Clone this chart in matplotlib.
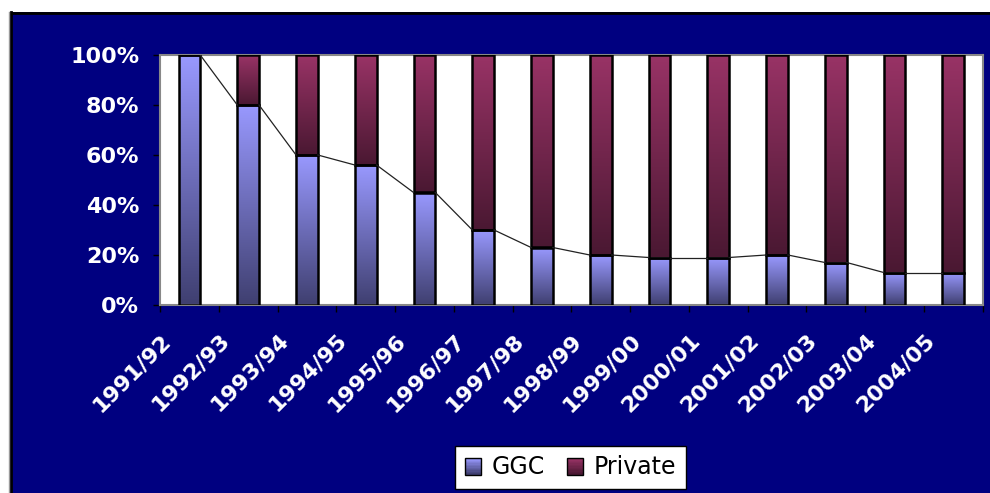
import numpy as np
import matplotlib.pyplot as plt
import matplotlib.transforms as mtransforms
from matplotlib.colors import LinearSegmentedColormap, to_rgb
from matplotlib.patches import Rectangle, Patch
from matplotlib.legend_handler import HandlerBase
from matplotlib.lines import Line2D

# dane
years = ['1991/92', '1992/93', '1993/94', '1994/95', '1995/96', '1996/97', '1997/98',
         '1998/99', '1999/00', '2000/01', '2001/02', '2002/03', '2003/04', '2004/05']
ggc = [100, 80, 60, 56, 45, 30, 23, 20, 19, 19, 20, 17, 13, 13]
private = [100 - v for v in ggc]

navy = '#000080'
ggc_top, ggc_bot = '#9999FF', '#3F3F70'
prv_top, prv_bot = '#993366', '#4A1832'

fig = plt.figure(figsize=(9.9, 4.93), dpi=100)
fig.patch.set_facecolor('white')
# ciemnoniebieskie tlo z czarna ramka u gory i z lewej
fig.patches.append(Rectangle((10/990, 0), 1, 1 - 12/493, transform=fig.transFigure,
                             facecolor=navy, edgecolor='none', zorder=-10))
fig.lines.append(Line2D([10/990, 1], [1 - 12.5/493]*2, transform=fig.transFigure, color='black', lw=2, zorder=-9))
fig.lines.append(Line2D([10.5/990]*2, [0, 1 - 12/493], transform=fig.transFigure, color='black', lw=2, zorder=-9))
fig.lines.append(Line2D([9/990]*2, [0, 1 - 12/493], transform=fig.transFigure, color='#999999', lw=1, zorder=-9))

ax = fig.add_axes([160/990, 1 - 305/493, (982.7 - 160)/990, 250/493])
ax.set_facecolor('white')

x = np.arange(len(years))
w = 0.37
b1 = ax.bar(x, ggc, w, color='none', edgecolor='black', lw=1.8, zorder=3)
b2 = ax.bar(x, private, w, bottom=ggc, color='none', edgecolor='black', lw=1.8, zorder=3)

grad = np.linspace(1, 0, 256).reshape(-1, 1)
cm_g = LinearSegmentedColormap.from_list('g', [ggc_bot, ggc_top])
cm_p = LinearSegmentedColormap.from_list('p', [prv_bot, prv_top])
for bars, cm in ((b1, cm_g), (b2, cm_p)):
    for p in bars:
        x0, y0 = p.get_x(), p.get_y()
        im = ax.imshow(grad, extent=[x0, x0 + p.get_width(), y0, y0 + p.get_height()],
                       aspect='auto', cmap=cm, vmin=0, vmax=1, zorder=2)
        im.set_clip_path(p)

# linie serii
for i in range(len(ggc) - 1):
    ax.plot([x[i] + w/2, x[i+1] - w/2], [ggc[i], ggc[i+1]], color='#222222', lw=0.9, zorder=4)

ax.set_xlim(-0.5, len(years) - 0.5)
ax.set_ylim(0, 100)
ax.set_yticks(range(0, 101, 20))
ax.set_yticklabels([f'{v}%' for v in range(0, 101, 20)])
ax.set_xticks(x)
ax.set_xticklabels(years, rotation=45, ha='right', va='top', rotation_mode='anchor')
ax.set_xticks(np.arange(-0.5, len(years)), minor=True)
ax.tick_params(axis='x', which='major', length=0, pad=0)
ax.tick_params(axis='x', which='minor', length=5, width=1, color='black')
ax.tick_params(axis='y', length=5, width=1, color='black', pad=10)
for lab in ax.get_xticklabels() + ax.get_yticklabels():
    lab.set_color('white')
    lab.set_fontweight('bold')
    lab.set_fontsize(16)
off = mtransforms.ScaledTranslation(-29/100, -25/100, fig.dpi_scale_trans)
for lab in ax.get_xticklabels():
    lab.set_transform(lab.get_transform() + off)
for s in ax.spines.values():
    s.set_color('#888888')
    s.set_linewidth(1.5)


class GradHandler(HandlerBase):
    def __init__(self, top, bot):
        super().__init__()
        self.top, self.bot = np.array(to_rgb(top)), np.array(to_rgb(bot))

    def create_artists(self, legend, orig_handle, xdescent, ydescent, width, height, fontsize, trans):
        side = height
        x0, y0 = -xdescent + (width - side) / 2, -ydescent
        arts = []
        n = 12
        for k in range(n):
            t = k / (n - 1)
            c = self.bot * (1 - t) + self.top * t
            arts.append(Rectangle((x0, y0 + side * k / n), side, side / n + 0.3,
                                  facecolor=c, edgecolor='none', transform=trans))
        arts.append(Rectangle((x0, y0), side, side, facecolor='none', edgecolor='black',
                              lw=1, transform=trans))
        return arts


h1, h2 = Patch(), Patch()
leg = fig.legend([h1, h2], ['GGC', 'Private'], loc='center', bbox_to_anchor=(570.5/990, 1 - 467.5/493),
                 ncol=2, fontsize=17, frameon=True, fancybox=False, edgecolor='black',
                 framealpha=1, handlelength=0.7, handleheight=0.7, handletextpad=0.45,
                 columnspacing=0.9, borderpad=0.4,
                 handler_map={h1: GradHandler(ggc_top, ggc_bot), h2: GradHandler(prv_top, prv_bot)})
leg.get_frame().set_linewidth(1)

fig.savefig('out.png', dpi=100, facecolor=fig.get_facecolor())
